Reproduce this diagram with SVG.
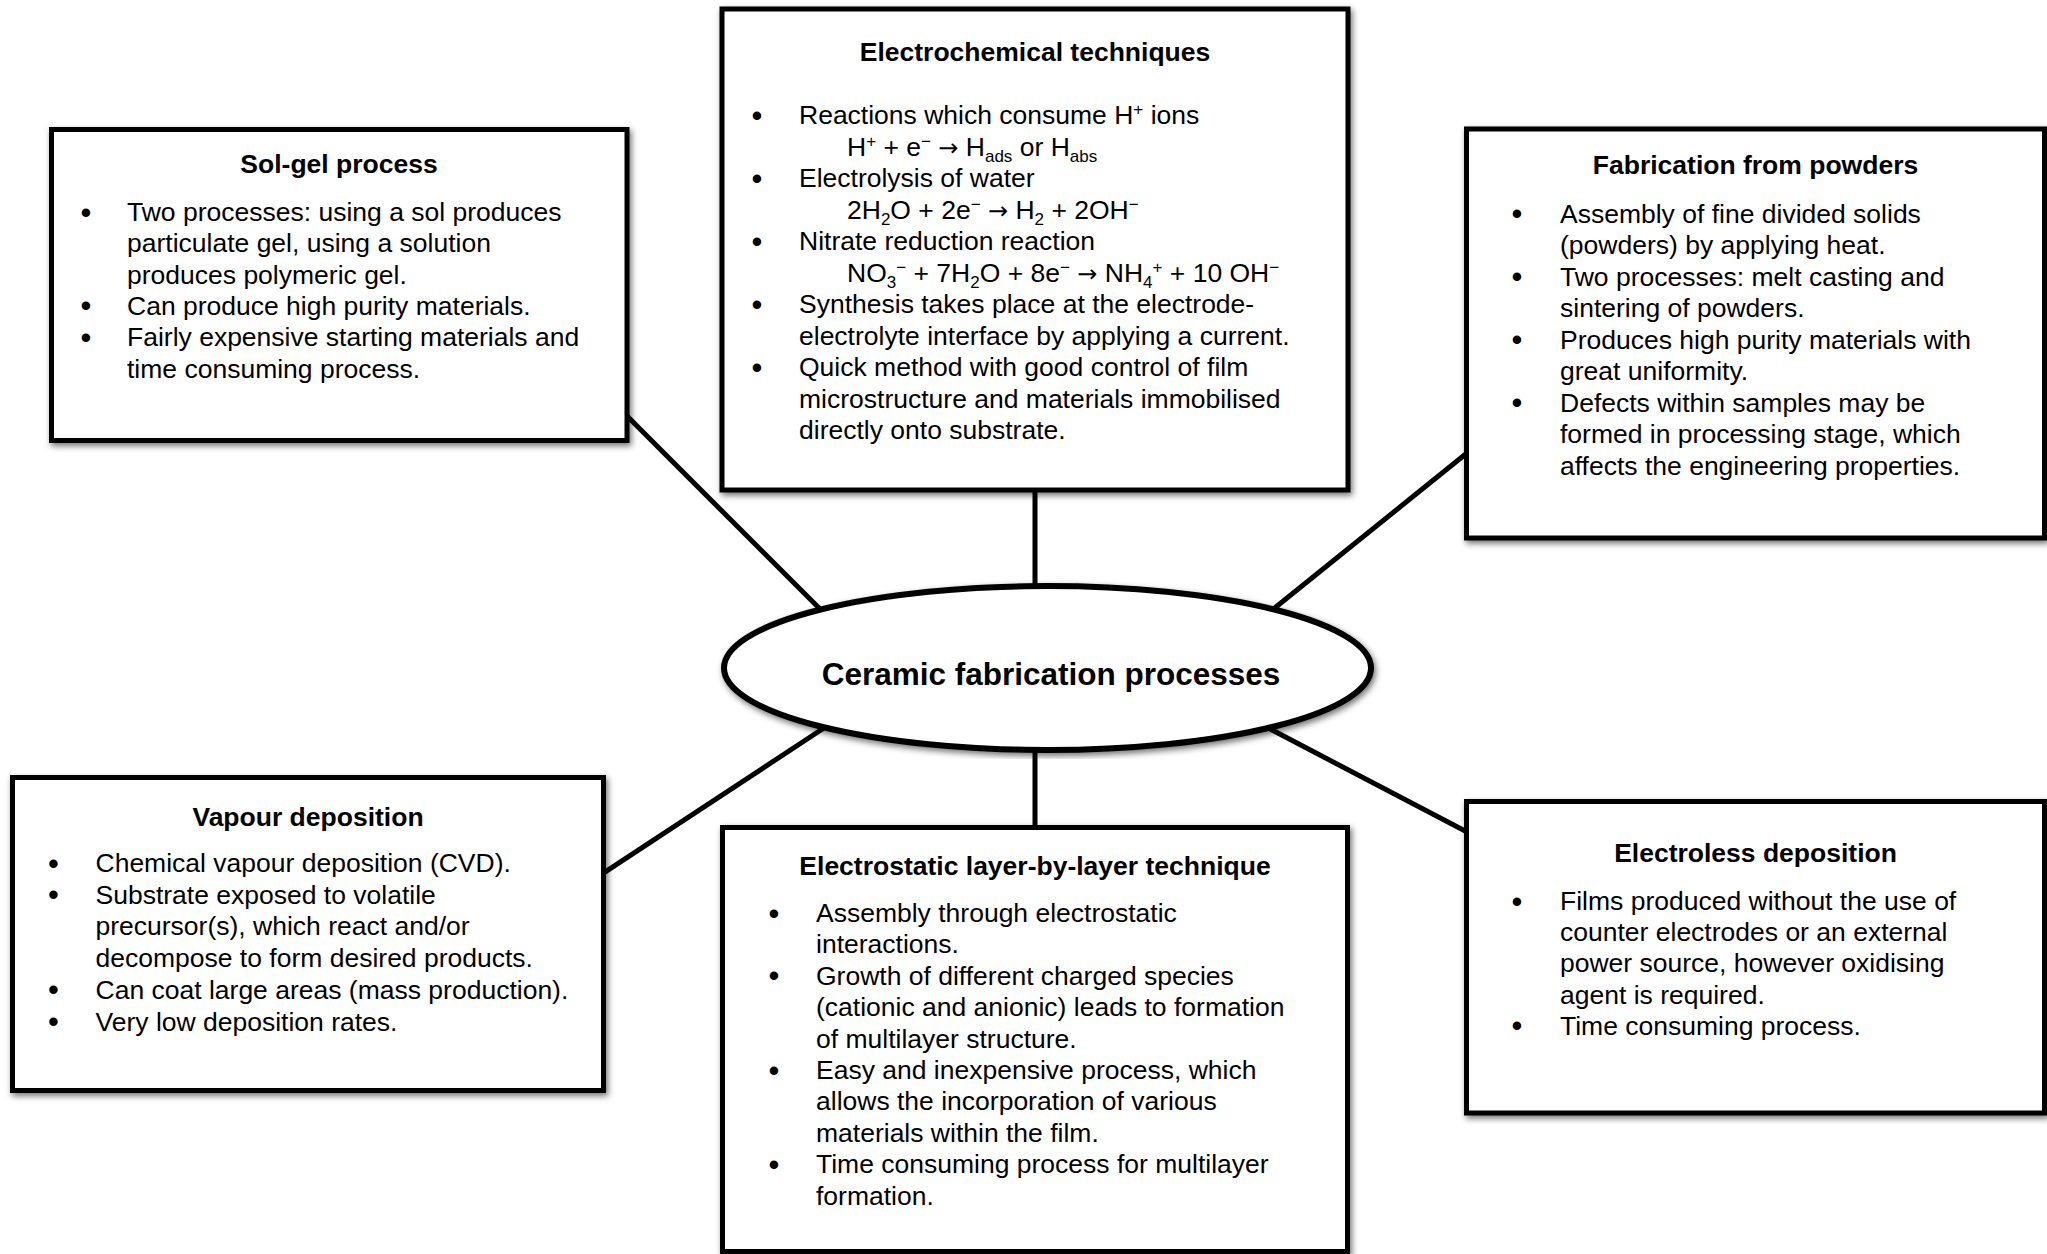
<svg xmlns="http://www.w3.org/2000/svg" width="2047" height="1254" viewBox="0 0 2047 1254">
<defs>
<filter id="sh" x="-5%" y="-5%" width="110%" height="110%">
<feDropShadow dx="2" dy="3" stdDeviation="3" flood-color="#000" flood-opacity="0.55"/>
</filter>
<style>
.box{fill:#fff;stroke:#000;stroke-width:5;filter:url(#sh)}
.ell{fill:#fff;stroke:#000;stroke-width:6;filter:url(#sh)}
.c{stroke:#000;stroke-width:5;fill:none}
text{font-family:"Liberation Sans",Arial,sans-serif;font-size:26.5px;fill:#000}
.h{font-weight:bold;text-anchor:middle}
.main{font-weight:bold;text-anchor:middle;font-size:31.5px}
.b{text-anchor:middle;font-size:31px}
.s{font-size:17px}
.ar{font-family:"DejaVu Sans",sans-serif;font-size:24px}
</style>
</defs>
<rect width="2047" height="1254" fill="#fff"/>
<g id="connectors">
<line class="c" x1="1035" y1="488" x2="1035" y2="595"/>
<line class="c" x1="1035" y1="740" x2="1035" y2="830"/>
<line class="c" x1="620" y1="409" x2="830" y2="619"/>
<line class="c" x1="1266" y1="615" x2="1480" y2="442.5"/>
<line class="c" x1="830" y1="724" x2="595" y2="878.6"/>
<line class="c" x1="1256" y1="721.6" x2="1480" y2="838.8"/>
</g>
<g id="center">
<ellipse class="ell" cx="1047.5" cy="668" rx="323.5" ry="82"/>
<text class="main" x="1051" y="685">Ceramic fabrication processes</text>
</g>
<g id="solgel">
<rect class="box" x="51.5" y="129.5" width="575.5" height="311"/>
<text class="h" x="339" y="173">Sol-gel process</text>
<text class="b" x="86" y="222.5">•</text>
<text x="127" y="221">Two processes: using a sol produces</text>
<text x="127" y="252.3">particulate gel, using a solution</text>
<text x="127" y="283.6">produces polymeric gel.</text>
<text class="b" x="86" y="316.4">•</text>
<text x="127" y="314.9">Can produce high purity materials.</text>
<text class="b" x="86" y="347.7">•</text>
<text x="127" y="346.2">Fairly expensive starting materials and</text>
<text x="127" y="377.5">time consuming process.</text>
</g>
<g id="electrochemical">
<rect class="box" x="722" y="9" width="626" height="481"/>
<text class="h" x="1035" y="61">Electrochemical techniques</text>
<text class="b" x="757" y="125.5">•</text>
<text x="799" y="124">Reactions which consume H<tspan class="s" dy="-9">+</tspan><tspan dy="9"> ions</tspan></text>
<text x="847" y="155.5">H<tspan class="s" dy="-9">+</tspan><tspan dy="9"> + e</tspan><tspan class="s" dy="-9">−</tspan><tspan dy="9"> </tspan><tspan class="ar">→</tspan><tspan> H</tspan><tspan class="s" dy="6">ads</tspan><tspan dy="-6"> or H</tspan><tspan class="s" dy="6">abs</tspan></text>
<text class="b" x="757" y="188.5">•</text>
<text x="799" y="187">Electrolysis of water</text>
<text x="847" y="218.5">2H<tspan class="s" dy="6">2</tspan><tspan dy="-6">O + 2e</tspan><tspan class="s" dy="-9">−</tspan><tspan dy="9"> </tspan><tspan class="ar">→</tspan><tspan> H</tspan><tspan class="s" dy="6">2</tspan><tspan dy="-6"> + 2OH</tspan><tspan class="s" dy="-9">−</tspan></text>
<text class="b" x="757" y="251.5">•</text>
<text x="799" y="250">Nitrate reduction reaction</text>
<text x="847" y="281.5">NO<tspan class="s" dy="6">3</tspan><tspan class="s" dy="-15">−</tspan><tspan dy="9"> + 7H</tspan><tspan class="s" dy="6">2</tspan><tspan dy="-6">O + 8e</tspan><tspan class="s" dy="-9">−</tspan><tspan dy="9"> </tspan><tspan class="ar">→</tspan><tspan> NH</tspan><tspan class="s" dy="6">4</tspan><tspan class="s" dy="-15">+</tspan><tspan dy="9"> + 10 OH</tspan><tspan class="s" dy="-9">−</tspan></text>
<text class="b" x="757" y="314.5">•</text>
<text x="799" y="313">Synthesis takes place at the electrode-</text>
<text x="799" y="344.5">electrolyte interface by applying a current.</text>
<text class="b" x="757" y="377.5">•</text>
<text x="799" y="376">Quick method with good control of film</text>
<text x="799" y="407.5">microstructure and materials immobilised</text>
<text x="799" y="439">directly onto substrate.</text>
</g>
<g id="powders">
<rect class="box" x="1466.5" y="129" width="578" height="409"/>
<text class="h" x="1755.5" y="174">Fabrication from powders</text>
<text class="b" x="1517" y="224">•</text>
<text x="1560" y="222.5">Assembly of fine divided solids</text>
<text x="1560" y="254">(powders) by applying heat.</text>
<text class="b" x="1517" y="287">•</text>
<text x="1560" y="285.5">Two processes: melt casting and</text>
<text x="1560" y="317">sintering of powders.</text>
<text class="b" x="1517" y="350">•</text>
<text x="1560" y="348.5">Produces high purity materials with</text>
<text x="1560" y="380">great uniformity.</text>
<text class="b" x="1517" y="413">•</text>
<text x="1560" y="411.5">Defects within samples may be</text>
<text x="1560" y="443">formed in processing stage, which</text>
<text x="1560" y="474.5">affects the engineering properties.</text>
</g>
<g id="vapour">
<rect class="box" x="12.5" y="777.5" width="591" height="313"/>
<text class="h" x="308" y="825.5">Vapour deposition</text>
<text class="b" x="53.5" y="873.5">•</text>
<text x="95.5" y="872">Chemical vapour deposition (CVD).</text>
<text class="b" x="53.5" y="905.2">•</text>
<text x="95.5" y="903.7">Substrate exposed to volatile</text>
<text x="95.5" y="935.4">precursor(s), which react and/or</text>
<text x="95.5" y="967.1">decompose to form desired products.</text>
<text class="b" x="53.5" y="1000.3">•</text>
<text x="95.5" y="998.8">Can coat large areas (mass production).</text>
<text class="b" x="53.5" y="1032">•</text>
<text x="95.5" y="1030.5">Very low deposition rates.</text>
</g>
<g id="electrostatic">
<rect class="box" x="722.5" y="827.5" width="625" height="424"/>
<text class="h" x="1035" y="875">Electrostatic layer-by-layer technique</text>
<text class="b" x="774" y="923.5">•</text>
<text x="816" y="922">Assembly through electrostatic</text>
<text x="816" y="953.4">interactions.</text>
<text class="b" x="774" y="986.3">•</text>
<text x="816" y="984.8">Growth of different charged species</text>
<text x="816" y="1016.2">(cationic and anionic) leads to formation</text>
<text x="816" y="1047.6">of multilayer structure.</text>
<text class="b" x="774" y="1080.5">•</text>
<text x="816" y="1079">Easy and inexpensive process, which</text>
<text x="816" y="1110.4">allows the incorporation of various</text>
<text x="816" y="1141.8">materials within the film.</text>
<text class="b" x="774" y="1174.7">•</text>
<text x="816" y="1173.2">Time consuming process for multilayer</text>
<text x="816" y="1204.6">formation.</text>
</g>
<g id="electroless">
<rect class="box" x="1466.5" y="801.5" width="578" height="311.5"/>
<text class="h" x="1755.5" y="861.5">Electroless deposition</text>
<text class="b" x="1517" y="911.5">•</text>
<text x="1560" y="910">Films produced without the use of</text>
<text x="1560" y="941.2">counter electrodes or an external</text>
<text x="1560" y="972.4">power source, however oxidising</text>
<text x="1560" y="1003.6">agent is required.</text>
<text class="b" x="1517" y="1036.3">•</text>
<text x="1560" y="1034.8">Time consuming process.</text>
</g>
</svg>
